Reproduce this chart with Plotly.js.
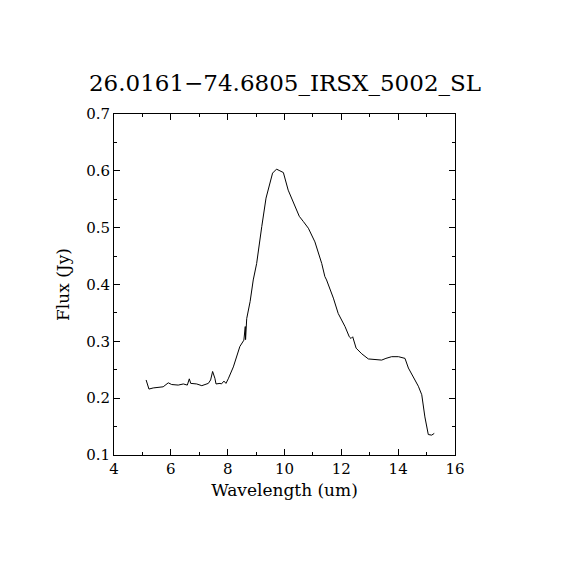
<!DOCTYPE html>
<html>
<head>
<meta charset="utf-8">
<script src="https://cdn.plot.ly/plotly-3.0.1.min.js"></script>
<style>html,body{margin:0;padding:0;background:#fff}#chart{width:570px;height:570px}</style>
</head>
<body>
<div id="chart"></div>
<script>
const wavelength = [5.13,5.23,5.38,5.73,5.91,6.03,6.26,6.44,6.58,6.65,6.70,6.91,7.09,7.24,7.32,7.40,7.47,7.55,7.59,7.73,7.78,7.87,7.94,8.02,8.20,8.43,8.49,8.57,8.62,8.63,8.67,8.79,8.90,9.02,9.20,9.35,9.58,9.72,9.84,9.96,10.13,10.25,10.43,10.52,10.66,10.84,11.07,11.31,11.42,11.48,11.72,11.89,12.13,12.28,12.34,12.40,12.52,12.72,12.95,13.24,13.42,13.57,13.77,14.01,14.24,14.36,14.53,14.71,14.83,14.94,15.06,15.18,15.27];
const flux = [0.232,0.216,0.218,0.220,0.227,0.224,0.223,0.225,0.223,0.234,0.226,0.225,0.222,0.225,0.226,0.232,0.247,0.235,0.225,0.226,0.225,0.230,0.226,0.234,0.255,0.291,0.296,0.302,0.326,0.303,0.340,0.370,0.408,0.437,0.502,0.552,0.596,0.603,0.600,0.597,0.566,0.552,0.528,0.520,0.511,0.499,0.475,0.437,0.414,0.408,0.376,0.349,0.326,0.308,0.305,0.308,0.288,0.278,0.269,0.267,0.267,0.270,0.273,0.273,0.270,0.253,0.238,0.221,0.206,0.167,0.136,0.135,0.138];
const titleText = "26.0161\u221274.6805_IRSX_5002_SL";
const xLabel = "Wavelength (um)";
const yLabel = "Flux (Jy)";

const font = "DejaVu Serif, Liberation Serif, serif";
Plotly.newPlot('chart', [{
  x: wavelength, y: flux, type: 'scatter', mode: 'lines',
  line: {color: '#000', width: 1}, hoverinfo: 'skip'
}], {
  width: 570, height: 570,
  paper_bgcolor: '#fff', plot_bgcolor: '#fff',
  margin: {l: 114, r: 115, t: 114, b: 115},
  showlegend: false,
  title: {text: titleText, font: {family: font, size: 23, color: '#000'}, x: 0.5, xanchor: 'center', y: 0.855, yanchor: 'middle'},
  xaxis: {
    range: [4, 16], dtick: 2, tick0: 4, ticks: 'inside', ticklen: 6, tickcolor: '#000',
    minor: {dtick: 1, ticks: 'inside', ticklen: 3, tickcolor: '#000'},
    showline: true, linecolor: '#000', linewidth: 1, mirror: 'allticks', showgrid: false, zeroline: false,
    tickfont: {family: font, size: 15, color: '#000'},
    title: {text: xLabel, font: {family: font, size: 17, color: '#000'}, standoff: 7}
  },
  yaxis: {
    range: [0.1, 0.7], dtick: 0.1, tick0: 0.1, ticks: 'inside', ticklen: 6, tickcolor: '#000',
    minor: {dtick: 0.05, ticks: 'inside', ticklen: 3, tickcolor: '#000'},
    tickformat: '.1f',
    showline: true, linecolor: '#000', linewidth: 1, mirror: 'allticks', showgrid: false, zeroline: false,
    tickfont: {family: font, size: 15, color: '#000'},
    title: {text: yLabel, font: {family: font, size: 17, color: '#000'}, standoff: 12}
  }
}, {staticPlot: true});
</script>
</body>
</html>
